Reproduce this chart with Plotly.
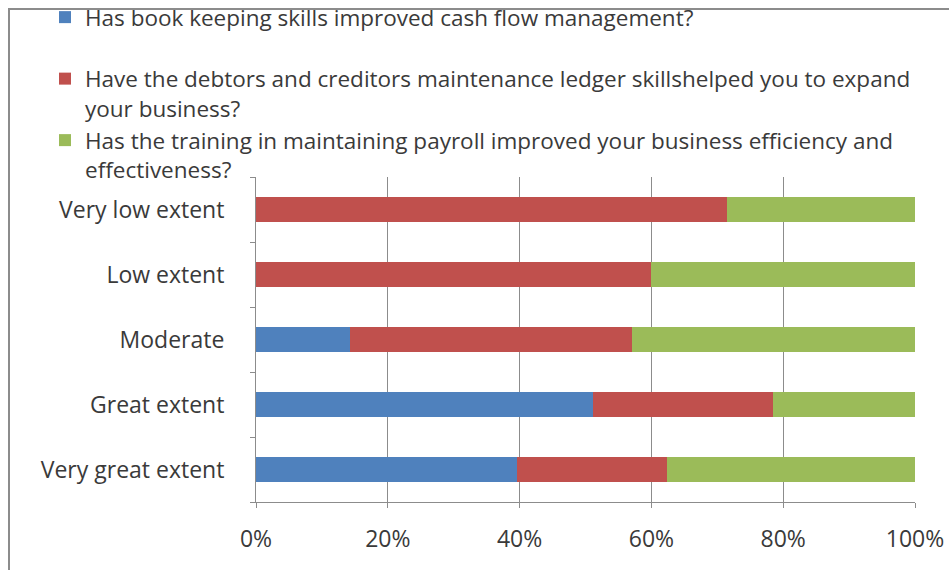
import plotly.graph_objects as go

# Response categories (bottom to top) and the share of answers per question, in %
categories = ["Very great extent", "Great extent", "Moderate", "Low extent", "Very low extent"]
bookkeeping = [39.6, 51.2, 14.3, 0.0, 0.0]
ledger = [22.8, 27.2, 42.8, 60.0, 71.4]
payroll = [37.6, 21.6, 42.9, 40.0, 28.6]

series_names = [
    "Has book keeping skills improved cash flow management?<br> ",
    "Have the debtors and creditors maintenance ledger skillshelped you to expand<br>your business?",
    "Has the training in maintaining payroll improved your business efficiency and<br>effectiveness?",
]
series_values = [bookkeeping, ledger, payroll]
series_colors = ["#4F81BD", "#C0504D", "#9BBB59"]

tick_vals = [0, 20, 40, 60, 80, 100]
tick_text = ["0%", "20%", "40%", "60%", "80%", "100%"]

FONT = "Open Sans"
AXIS_FONT_SIZE = 23
LEGEND_FONT_SIZE = 22.5
TEXT_COLOR = "#3a3a3a"

W, H = 949, 570
ML, MR, MT, MB = 256, 34, 177, 68

fig = go.Figure()
for name, vals, color in zip(series_names, series_values, series_colors):
    fig.add_trace(go.Bar(
        y=categories,
        x=vals,
        name=name,
        orientation="h",
        marker=dict(color=color, line=dict(width=0)),
    ))

# outer chart frame (left and top edges visible)
pw, ph = W - ML - MR, H - MT - MB
def px_to_paper_x(px):
    return (px - ML) / pw
def px_to_paper_y(py):
    return (H - MB - py) / ph

fig.add_shape(
    type="rect", xref="paper", yref="paper",
    x0=px_to_paper_x(9), x1=px_to_paper_x(W + 20),
    y0=px_to_paper_y(H + 20), y1=px_to_paper_y(9),
    line=dict(color="#8c8c8c", width=2), fillcolor="rgba(0,0,0,0)", layer="below",
)

fig.update_layout(
    width=W, height=H,
    margin=dict(l=ML, r=MR, t=MT, b=MB, autoexpand=False),
    barmode="stack",
    bargap=0.615,
    plot_bgcolor="white",
    paper_bgcolor="white",
    font=dict(family=FONT, size=AXIS_FONT_SIZE, color=TEXT_COLOR),
    legend=dict(
        x=px_to_paper_x(45), y=px_to_paper_y(-4),
        xanchor="left", yanchor="top",
        orientation="v",
        traceorder="normal",
        valign="top",
        font=dict(family=FONT, size=LEGEND_FONT_SIZE, color=TEXT_COLOR),
        bgcolor="rgba(0,0,0,0)",
        tracegroupgap=0,
    ),
    showlegend=True,
    xaxis=dict(
        range=[0, 100],
        tickvals=tick_vals,
        ticktext=tick_text,
        showgrid=True, gridcolor="#8c8c8c", gridwidth=1,
        showline=True, linecolor="#8c8c8c", linewidth=1,
        ticks="outside", ticklen=5, tickcolor="#8c8c8c",
        zeroline=False,
        ticklabelstandoff=11,
        tickfont=dict(family=FONT, size=AXIS_FONT_SIZE, color=TEXT_COLOR),
        fixedrange=True,
    ),
    yaxis=dict(
        categoryorder="array", categoryarray=categories,
        showline=True, linecolor="#8c8c8c", linewidth=1,
        ticks="outside", ticklen=5, tickcolor="#8c8c8c",
        tickson="boundaries",
        showgrid=False, zeroline=False,
        ticklabelstandoff=26,
        tickfont=dict(family=FONT, size=AXIS_FONT_SIZE, color=TEXT_COLOR),
        fixedrange=True,
    ),
)

fig.write_html("out.html")
